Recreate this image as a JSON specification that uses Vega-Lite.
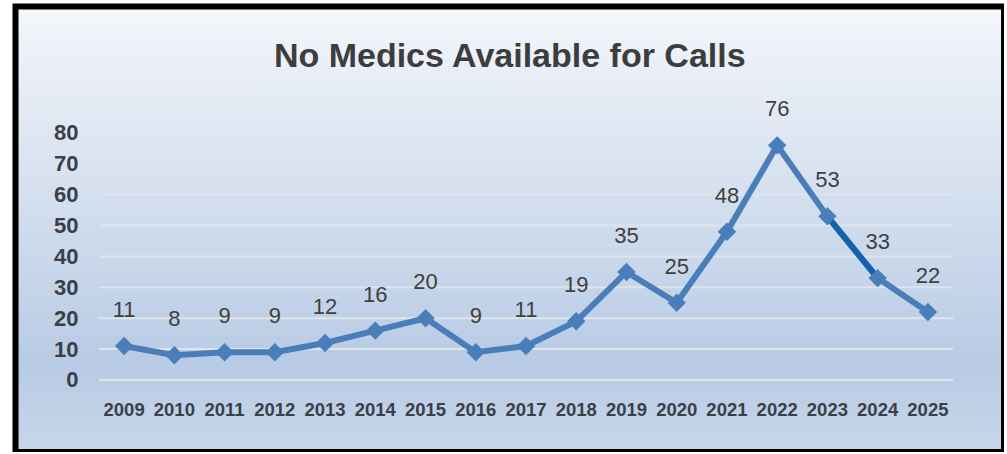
{
  "$schema": "https://vega.github.io/schema/vega-lite/v6.json",
  "autosize": {"type": "none"},
  "width": 988.5,
  "height": 445.5,
  "padding": {"left": 15.5, "top": 6.5, "right": 0, "bottom": 0},
  "background": "#ffffff",
  "config": {
    "view": {
      "fill": {"gradient": "linear", "x1": 0, "y1": 0, "x2": 0, "y2": 1,
        "stops": [
          {"offset": 0, "color": "#f4f6fb"},
          {"offset": 0.8, "color": "#b8cbe4"},
          {"offset": 1, "color": "#c6d5ea"}
        ]},
      "stroke": "#000000",
      "strokeWidth": 6
    },
    "axisX": {"offset": -72, "domain": false, "ticks": false, "tickSize": 0, "grid": false,
      "labelPadding": 35, "labelBaseline": "alphabetic", "labelAngle": 0,
      "labelFont": "Liberation Sans", "labelFontSize": 18.5, "labelFontWeight": "bold",
      "labelColor": "#3a3f48", "labelOverlap": false},
    "axisY": {"offset": -83.5, "domain": false, "ticks": false, "tickSize": 0, "grid": false,
      "labelPadding": 21, "labelFont": "Liberation Sans", "labelFontSize": 22, "labelFontWeight": "bold",
      "labelColor": "#3a3f48"}
  },
  "title": {
    "text": "No Medics Available for Calls",
    "font": "Liberation Sans",
    "fontSize": 34,
    "fontWeight": "bold",
    "color": "#3d3d3d",
    "anchor": "middle",
    "baseline": "alphabetic",
    "offset": -94
  },
  "datasets": {
    "counts": [
      {"year": "2009", "value": 11},
      {"year": "2010", "value": 8},
      {"year": "2011", "value": 9},
      {"year": "2012", "value": 9},
      {"year": "2013", "value": 12},
      {"year": "2014", "value": 16},
      {"year": "2015", "value": 20},
      {"year": "2016", "value": 9},
      {"year": "2017", "value": 11},
      {"year": "2018", "value": 19},
      {"year": "2019", "value": 35},
      {"year": "2020", "value": 25},
      {"year": "2021", "value": 48},
      {"year": "2022", "value": 76},
      {"year": "2023", "value": 53},
      {"year": "2024", "value": 33},
      {"year": "2025", "value": 22}
    ],
    "grid": [
      {"v": 0}, {"v": 10}, {"v": 20}, {"v": 30}, {"v": 40},
      {"v": 50}, {"v": 60}, {"v": 70}, {"v": 80}
    ]
  },
  "layer": [
    {
      "data": {"name": "grid"},
      "mark": {"type": "rule", "color": "#dfe3ea", "strokeWidth": 2},
      "encoding": {
        "y": {"field": "v", "type": "quantitative",
          "axis": {"title": null, "values": [0, 10, 20, 30, 40, 50, 60, 70, 80]},
          "scale": {"domain": [-23.32, 120.97], "nice": false, "zero": false}},
        "x": {"datum": "2009", "type": "nominal", "bandPosition": 0, "axis": {"title": null}},
        "x2": {"datum": "2025", "bandPosition": 1}
      }
    },
    {
      "data": {"name": "counts"},
      "mark": {"type": "line", "color": "#4a7ebb", "strokeWidth": 6},
      "encoding": {
        "x": {"field": "year", "type": "nominal",
          "scale": {"type": "band", "paddingInner": 0, "paddingOuter": 0, "range": [83.5, 937.5]},
          "axis": {"title": null}},
        "y": {"field": "value", "type": "quantitative",
          "scale": {"domain": [-23.32, 120.97], "nice": false, "zero": false},
          "axis": {"title": null, "values": [0, 10, 20, 30, 40, 50, 60, 70, 80]}}
      }
    },
    {
      "data": {"name": "counts"},
      "transform": [{"filter": {"field": "year", "oneOf": ["2023", "2024"]}}],
      "mark": {"type": "line", "color": "#1461b0", "strokeWidth": 6},
      "encoding": {
        "x": {"field": "year", "type": "nominal", "axis": {"title": null}},
        "y": {"field": "value", "type": "quantitative",
          "axis": {"title": null, "values": [0, 10, 20, 30, 40, 50, 60, 70, 80]}}
      }
    },
    {
      "data": {"name": "counts"},
      "mark": {"type": "point", "shape": "diamond", "filled": true, "size": 340, "color": "#4a7ebb", "opacity": 1},
      "encoding": {
        "x": {"field": "year", "type": "nominal", "axis": {"title": null}},
        "y": {"field": "value", "type": "quantitative",
          "axis": {"title": null, "values": [0, 10, 20, 30, 40, 50, 60, 70, 80]}}
      }
    },
    {
      "data": {"name": "counts"},
      "mark": {"type": "text", "font": "Liberation Sans", "fontSize": 22, "color": "#404040", "baseline": "alphabetic", "dy": -29},
      "encoding": {
        "x": {"field": "year", "type": "nominal", "axis": {"title": null}},
        "y": {"field": "value", "type": "quantitative",
          "axis": {"title": null, "values": [0, 10, 20, 30, 40, 50, 60, 70, 80]}},
        "text": {"field": "value", "type": "quantitative"}
      }
    }
  ]
}
